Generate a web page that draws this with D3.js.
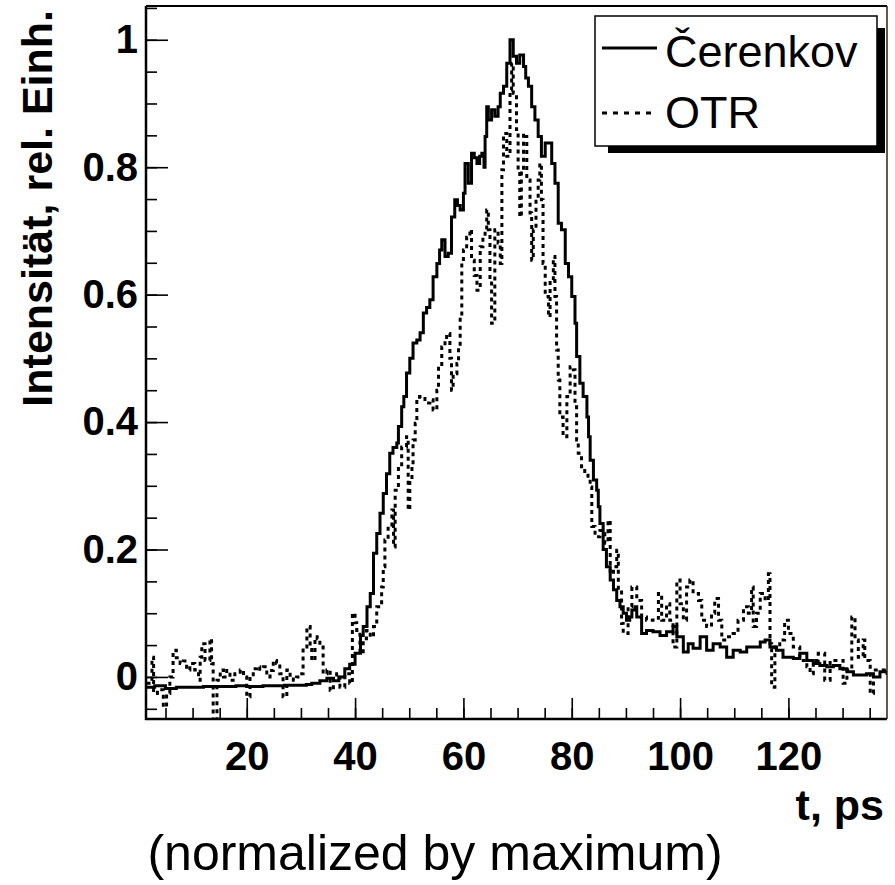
<!DOCTYPE html>
<html>
<head>
<meta charset="utf-8">
<script src="https://cdn.jsdelivr.net/npm/d3@7"></script>
<style>
  html, body { margin: 0; padding: 0; background: #fff; }
  svg { display: block; }
  text { font-family: "Liberation Sans", Arial, Helvetica, sans-serif; fill: #000; }
</style>
</head>
<body>
<svg id="chart" width="895" height="885"></svg>
<script>
// ---- data ----
const xMajorTicks = [20, 40, 60, 80, 100, 120];
const yMajorTicks = [0, 0.2, 0.4, 0.6, 0.8, 1];
const yTickLabels = ["0", "0.2", "0.4", "0.6", "0.8", "1"];
const seriesNames = ["\u010Cerenkov", "OTR"];

const cerenkovT = [1.4, 3, 5, 7, 10, 12, 15, 18, 20, 23, 25, 27, 29, 31, 32, 33.5, 34.8, 36, 37, 38.1, 39, 40.0, 41.0, 41.5, 42.2, 42.8,
  43.4, 44.0, 44.6, 45.2, 45.8, 46.4, 47.0, 47.7, 48.0, 48.6, 49.0, 49.5, 50.1, 50.7, 51.4, 52.0, 52.6, 53.2, 53.8, 54.4,
  55.1, 55.6, 56.0, 56.6, 57.2, 57.8, 58.4, 58.9, 59.4, 60.0, 60.3, 60.9, 61.5, 62.0, 62.5, 63.0, 63.4, 63.8, 64.0, 64.3,
  64.6, 65.2, 65.8, 66.4, 66.8, 67.4, 68.0, 68.6, 69.2, 69.8, 70.4, 71.1, 71.5, 72.0, 72.6, 73.2, 73.8, 74.4, 75.1, 75.7,
  76.3, 76.9, 77.5, 78.1, 78.8, 79.4, 80.0, 80.6, 80.9, 81.5, 82.1, 82.8, 83.1, 83.4, 84.0, 84.6, 84.9, 85.2, 85.8, 86.4,
  87.1, 87.7, 88.3, 88.9, 89.5, 90.1, 90.7, 91.1, 91.7, 92.0, 92.9, 93.8, 95.0, 96.3, 97.5, 98.7, 99.4, 100.6, 101.5, 102.4,
  103.7, 104.9, 106.1, 107.4, 108.6, 109.8, 111.1, 112.3, 113.5, 114.8, 115.7, 116.6, 117.8, 119.0, 120.9, 122.1, 123.4,
  124.6, 125.8, 127.1, 128.3, 129.5, 130.8, 132.0, 133.2, 134.4, 135.7, 136.9, 138.2];
const cerenkovV = [-0.016, -0.014, -0.018, -0.016, -0.016, -0.015, -0.015, -0.014, -0.015, -0.014, -0.014, -0.013, -0.013, -0.012, -0.010, -0.006, -0.002, -0.006, 0.0, 0.013, 0.02, 0.037, 0.065, 0.079, 0.11, 0.131,
  0.194, 0.225, 0.257, 0.288, 0.319, 0.351, 0.36, 0.367, 0.393, 0.424, 0.44, 0.477, 0.50, 0.524, 0.529, 0.54, 0.571, 0.58, 0.592, 0.628,
  0.649, 0.67, 0.686, 0.66, 0.665, 0.722, 0.749, 0.74, 0.733, 0.759, 0.806, 0.775, 0.822, 0.815, 0.806, 0.817, 0.822, 0.80, 0.848, 0.895,
  0.874, 0.89, 0.88, 0.895, 0.916, 0.927, 0.963, 1.0, 0.974, 0.963, 0.976, 0.958, 0.94, 0.927, 0.895, 0.874, 0.848, 0.817, 0.838, 0.838,
  0.806, 0.775, 0.712, 0.702, 0.649, 0.628, 0.597, 0.555, 0.503, 0.461, 0.44, 0.408, 0.377, 0.34, 0.309, 0.293, 0.267, 0.241, 0.20, 0.173,
  0.152, 0.137, 0.12, 0.11, 0.10, 0.089, 0.094, 0.105, 0.11, 0.094, 0.068, 0.073, 0.071, 0.065, 0.071, 0.079, 0.063, 0.039, 0.052, 0.045,
  0.063, 0.042, 0.052, 0.047, 0.031, 0.042, 0.039, 0.047, 0.047, 0.055, 0.058, 0.047, 0.042, 0.031, 0.029, 0.037, 0.026,
  0.021, 0.018, 0.016, 0.018, 0.013, 0.008, 0.003, 0.003, 0.005, 0.0, 0.008, 0.003];

const otrT = [1.5, 2.5, 2.8, 3.5, 4.6, 5.2, 5.8, 6.4, 7.0, 7.7, 8.3, 8.9, 9.5, 10.4, 11.1, 11.4, 11.7, 12.3, 13.2, 13.5, 13.8, 14.5,
  15.1, 15.7, 16.3, 16.9, 17.8, 18.8, 19.4, 20.0, 20.6, 21.2, 21.8, 22.4, 23.1, 23.7, 24.3, 24.9, 25.5, 26.1, 26.7, 27.4, 28.0,
  28.6, 29.2, 29.8, 30.4, 31.1, 31.7, 32.0, 32.6, 33.0, 33.5, 34.1, 34.8, 35.4, 36.0, 36.6, 37.2, 38.1, 39.0, 39.5, 40.0, 40.3,
  40.9, 41.5, 42.1, 42.8, 43.4, 44.0, 44.9, 45.2, 45.5, 46.1, 46.8, 47.1, 47.4, 48.0, 48.6, 49.5, 49.8, 50.1, 50.5, 50.7, 51.1,
  51.4, 51.9, 52.9, 53.8, 54.4, 55.1, 55.4, 56.0, 56.6, 56.9, 57.5, 57.8, 58.1, 58.8, 59.1, 59.4, 59.7, 60.0, 60.6, 61.2, 61.5,
  62.0, 62.5, 63.1, 63.6, 64.0, 64.3, 64.6, 64.9, 65.2, 65.8, 66.4, 66.8, 67.1, 67.4, 68.0, 68.6, 68.9, 69.2, 69.8, 70.1, 70.4,
  70.7, 71.1, 71.4, 71.7, 72.3, 72.6, 72.9, 73.4, 73.8, 74.1, 74.4, 74.7, 75.1, 75.7, 76.0, 76.6, 76.9, 77.2, 77.5, 77.8, 78.4,
  79.1, 79.7, 80.3, 80.6, 80.9, 81.2, 81.8, 82.4, 83.0, 83.4, 83.7, 84.3, 85.2, 86.1, 86.7, 87.1, 87.7, 88.3, 88.6, 89.2, 89.5,
  90.4, 91.1, 92.0, 92.9, 93.8, 95.0, 96.0, 96.6, 97.5, 98.1, 98.7, 99.4, 100.0, 100.6, 101.2, 101.8, 102.4, 103.4, 104.0, 104.9,
  105.8, 106.4, 107.1, 107.7, 108.6, 109.8, 110.7, 111.7, 112.6, 113.2, 113.5, 114.1, 114.8, 115.7, 116.3, 116.6, 116.9, 117.5,
  118.4, 119.3, 120.0, 120.9, 122.1, 123.4, 124.0, 124.6, 125.5, 126.7, 127.7, 128.9, 130.1, 130.8, 131.7, 132.3, 132.9, 133.8,
  134.1, 135.1, 135.7, 136.9, 138.2];
const otrV = [-0.01, 0.031, -0.026, -0.02, -0.047, -0.026, 0.0, 0.042, 0.03, 0.021, 0.025, 0.011, 0.021, 0.011, -0.005, 0.031, 0.052, 0.026, 0.060, 0.021, -0.07, -0.005,
  0.011, 0.0, 0.01, -0.005, 0.005, 0.011, 0.0, -0.031, 0.0, 0.013, 0.016, 0.012, 0.016, 0.0, 0.01, 0.026, 0.021, 0.005, -0.031, 0.011, 0.0,
  -0.005, 0.0, 0.005, 0.047, 0.079, 0.047, 0.026, 0.063, 0.06, 0.047, 0.005, 0.011, -0.021, 0.0, 0.005, -0.016, 0.005, -0.01, 0.10, 0.085, 0.073,
  0.037, 0.06, 0.073, 0.063, 0.079, 0.11, 0.141, 0.173, 0.215, 0.236, 0.262, 0.204, 0.293, 0.33, 0.361, 0.377, 0.262, 0.309, 0.33, 0.372, 0.398,
  0.435, 0.44, 0.43, 0.435, 0.419, 0.45, 0.487, 0.518, 0.529, 0.539, 0.50, 0.45, 0.476, 0.492, 0.518, 0.565, 0.649, 0.67, 0.69, 0.702, 0.654,
  0.63, 0.607, 0.675, 0.69, 0.702, 0.733, 0.702, 0.623, 0.555, 0.702, 0.681, 0.649, 0.796, 0.853, 0.817, 0.921, 0.963, 0.916, 0.859, 0.796, 0.722,
  0.796, 0.853, 0.848, 0.78, 0.728, 0.654, 0.702, 0.75, 0.78, 0.806, 0.749, 0.649, 0.597, 0.565, 0.623, 0.66, 0.597, 0.513, 0.466, 0.408, 0.377,
  0.44, 0.487, 0.482, 0.424, 0.372, 0.351, 0.33, 0.319, 0.31, 0.298, 0.236, 0.22, 0.23, 0.21, 0.246, 0.162, 0.173, 0.199, 0.136, 0.084, 0.068,
  0.11, 0.141, 0.12, 0.094, 0.089, 0.092, 0.131, 0.089, 0.115, 0.089, 0.047, 0.152, 0.115, 0.089, 0.141, 0.152, 0.131, 0.12, 0.089, 0.079,
  0.10, 0.123, 0.089, 0.058, 0.063, 0.068, 0.089, 0.11, 0.10, 0.141, 0.079, 0.10, 0.131, 0.12, 0.162, 0.052, -0.016, 0.047,
  0.058, 0.089, 0.068, 0.047, 0.026, 0.016, 0.005, 0.026, 0.037, -0.005, 0.026, 0.026, -0.01, 0.011, 0.094, 0.058, 0.031, 0.058,
  0.026, -0.026, 0.011, 0.011, 0.015];

// ---- layout ----
const svg = d3.select("#chart");
const frame = { left: 146, right: 887, top: 6, bottom: 719 };
const x = d3.scaleLinear().domain([1.4, 138.2]).range([frame.left, frame.right]);
const y = d3.scaleLinear().domain([-0.066, 1.053]).range([frame.bottom, frame.top]);

svg.append("rect").attr("width", 895).attr("height", 885).attr("fill", "#fff");

svg.append("defs").append("clipPath").attr("id", "plotclip")
  .append("rect").attr("x", frame.left).attr("y", frame.top)
  .attr("width", frame.right - frame.left).attr("height", frame.bottom - frame.top);

// minor ticks
const xMinor = d3.range(5, 138.2, 5);
const yMinor = d3.range(-0.05, 1.051, 0.05).map(v => +v.toFixed(2));

const gxMinor = svg.append("g").attr("transform", `translate(0,${frame.bottom})`)
  .call(d3.axisBottom(x).tickValues(xMinor).tickSize(-11).tickFormat(""));
const gyMinor = svg.append("g").attr("transform", `translate(${frame.left},0)`)
  .call(d3.axisLeft(y).tickValues(yMinor).tickSize(-11).tickFormat(""));

const gx = svg.append("g").attr("transform", `translate(0,${frame.bottom})`)
  .call(d3.axisBottom(x).tickValues(xMajorTicks).tickSize(-21).tickPadding(23).tickFormat(d3.format("d")));
const gy = svg.append("g").attr("transform", `translate(${frame.left},0)`)
  .call(d3.axisLeft(y).tickValues(yMajorTicks).tickSize(-22).tickPadding(8)
    .tickFormat((d, i) => yTickLabels[i]));

[gxMinor, gyMinor, gx, gy].forEach(g => {
  g.select(".domain").remove();
  g.selectAll(".tick line").attr("stroke", "#000").attr("stroke-width", 1.6);
});
[gx, gy].forEach(g => {
  g.selectAll(".tick text").attr("font-size", 40).attr("font-weight", "bold")
    .attr("font-family", '"Liberation Sans", Arial, sans-serif').attr("fill", "#000");
});

// curves
const line = d3.line().x(d => x(d[0])).y(d => y(d[1])).curve(d3.curveStepAfter);
const cerenkovData = cerenkovT.map((t, i) => [t, cerenkovV[i]]);
const otrData = otrT.map((t, i) => [t, otrV[i]]);

const plot = svg.append("g").attr("clip-path", "url(#plotclip)");
plot.append("path").datum(otrData).attr("d", line)
  .attr("fill", "none").attr("stroke", "#000").attr("stroke-width", 3)
  .attr("stroke-dasharray", "4,4");
plot.append("path").datum(cerenkovData).attr("d", line)
  .attr("fill", "none").attr("stroke", "#000").attr("stroke-width", 3)
  .attr("stroke-linejoin", "miter");

// frame
svg.append("line").attr("x1", frame.left).attr("x2", frame.right).attr("y1", frame.top).attr("y2", frame.top)
  .attr("stroke", "#000").attr("stroke-width", 2);
svg.append("line").attr("x1", frame.right).attr("x2", frame.right).attr("y1", frame.top).attr("y2", frame.bottom)
  .attr("stroke", "#3a1a1a").attr("stroke-width", 1.5);
svg.append("line").attr("x1", frame.left).attr("x2", frame.left).attr("y1", frame.top).attr("y2", frame.bottom + 1)
  .attr("stroke", "#000").attr("stroke-width", 2.5);
svg.append("line").attr("x1", frame.left - 1).attr("x2", frame.right).attr("y1", frame.bottom).attr("y2", frame.bottom)
  .attr("stroke", "#000").attr("stroke-width", 2.5);

// legend
const leg = svg.append("g");
leg.append("rect").attr("x", 608).attr("y", 28).attr("width", 277).attr("height", 125).attr("fill", "#000");
leg.append("rect").attr("x", 595).attr("y", 16).attr("width", 282).attr("height", 130)
  .attr("fill", "#fff").attr("stroke", "#000").attr("stroke-width", 1.5);
leg.append("line").attr("x1", 602).attr("x2", 657).attr("y1", 48).attr("y2", 48)
  .attr("stroke", "#000").attr("stroke-width", 3);
leg.append("line").attr("x1", 602).attr("x2", 657).attr("y1", 113).attr("y2", 113)
  .attr("stroke", "#000").attr("stroke-width", 3).attr("stroke-dasharray", "5,6");
leg.append("text").attr("x", 665).attr("y", 67).attr("font-size", 45).text(seriesNames[0]);
leg.append("text").attr("x", 665).attr("y", 128).attr("font-size", 45).text(seriesNames[1]);

// axis titles
svg.append("text").attr("transform", "translate(52,10) rotate(-90)")
  .attr("text-anchor", "end").attr("font-size", 43).attr("font-weight", "bold")
  .text("Intensit\u00E4t, rel. Einh.");
svg.append("text").attr("x", 884).attr("y", 820).attr("text-anchor", "end")
  .attr("font-size", 43).attr("font-weight", "bold").text("t, ps");
svg.append("text").attr("x", 435).attr("y", 870).attr("text-anchor", "middle")
  .attr("font-size", 50).text("(normalized by maximum)");
</script>
</body>
</html>
